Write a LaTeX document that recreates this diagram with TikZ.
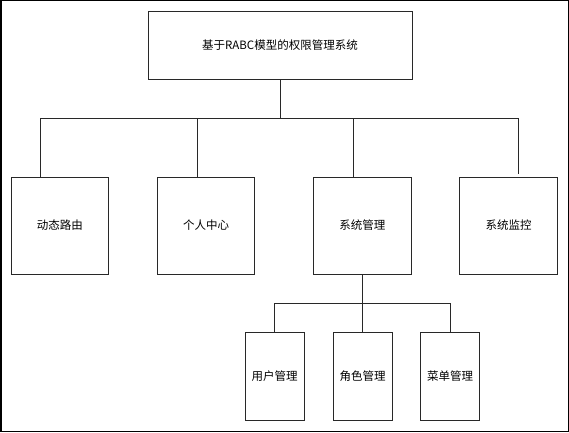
\documentclass[tikz,border=0pt]{standalone}
\usepackage{fontspec}
\setmainfont{Noto Sans CJK SC}
\usetikzlibrary{calc}
\definecolor{boxline}{RGB}{40,40,40}

\begin{document}
\begin{tikzpicture}[x=1pt, y=1pt, line width=0.9pt, draw=boxline,
    every node/.style={font=\fontsize{11.5}{13}\selectfont},
    module/.style={draw=boxline, line width=0.9pt, inner sep=0pt, minimum width=97.5pt, minimum height=97pt},
    submodule/.style={draw=boxline, line width=0.9pt, inner sep=0pt, minimum width=59pt, minimum height=88.5pt}]
    \useasboundingbox (0,0) rectangle (569,432);
    \draw[line width=1.5pt, draw=black] (0.75,0.75) rectangle (568.25,431.25);
    % root
    \node[draw=boxline, inner sep=0pt, minimum width=264pt, minimum height=68pt] (sys) at (280,386.5) {基于RABC模型的权限管理系统};
    % first level
    \node[module] (route) at (59.75,206.5) {动态路由};
    \node[module] (user) at (206,206.5) {个人中心};
    \node[module] (admin) at (362.25,206.5) {系统管理};
    \node[module] (monitor) at (508.5,206.5) {系统监控};
    % second level
    \node[submodule] (users) at (274.7,55.5) {用户管理};
    \node[submodule] (roles) at (362.5,55.5) {角色管理};
    \node[submodule] (menus) at (450.2,55.5) {菜单管理};
    % bus lines
    \coordinate (busL) at (40,314);
    \coordinate (busR) at (518,314);
    \coordinate (jUser) at (197,314);
    \coordinate (jAdmin) at (353,314);
    \coordinate (sub) at (362.25,128.7);
    \draw (sys.south) -- (sys.south |- busL);
    \draw (busL |- route.north) -- (busL) -- (busR);
    \draw[shorten >=3pt] (busR) -- (busR |- monitor.north);
    \draw (jUser) -- (jUser |- user.north);
    \draw (jAdmin) -- (jAdmin |- admin.north);
    \draw (admin.south) -- (sub);
    \draw (users.north) |- (menus.north |- sub) -- (menus.north);
    \draw (roles.north) -- (roles.north |- sub);
\end{tikzpicture}
\end{document}
